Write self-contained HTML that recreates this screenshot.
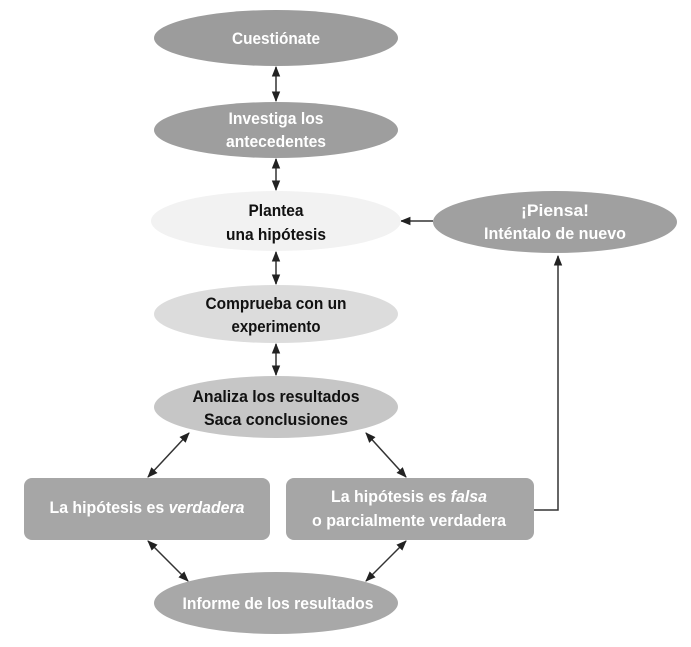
<!DOCTYPE html>
<html><head><meta charset="utf-8"><style>
body{margin:0;background:#fff}
svg text{font-family:"Liberation Sans Narrow","Liberation Sans",sans-serif;font-weight:bold;font-size:17px;text-anchor:middle}
</style></head><body>
<svg width="691" height="642" viewBox="0 0 691 642" xmlns="http://www.w3.org/2000/svg">
<defs>
<marker id="a" viewBox="0 0 10 10" refX="9" refY="5" markerWidth="7" markerHeight="7" orient="auto-start-reverse"><path d="M0,1 L10,5 L0,9 z" fill="#222"/></marker>
</defs>
<g fill="none" stroke="#333" stroke-width="1.5">
<line x1="276" y1="67" x2="276" y2="101" marker-start="url(#a)" marker-end="url(#a)"/>
<line x1="276" y1="159" x2="276" y2="190" marker-start="url(#a)" marker-end="url(#a)"/>
<line x1="276" y1="252" x2="276" y2="284" marker-start="url(#a)" marker-end="url(#a)"/>
<line x1="276" y1="344" x2="276" y2="375" marker-start="url(#a)" marker-end="url(#a)"/>
<line x1="189" y1="433" x2="148" y2="477" marker-start="url(#a)" marker-end="url(#a)"/>
<line x1="366" y1="433" x2="406" y2="477" marker-start="url(#a)" marker-end="url(#a)"/>
<line x1="148" y1="541" x2="188" y2="581" marker-start="url(#a)" marker-end="url(#a)"/>
<line x1="406" y1="541" x2="366" y2="581" marker-start="url(#a)" marker-end="url(#a)"/>
<line x1="433" y1="221" x2="401" y2="221" marker-end="url(#a)"/>
<polyline points="534,510 558,510 558,256" marker-end="url(#a)"/>
</g>
<ellipse cx="276" cy="38" rx="122" ry="28" fill="#9c9c9c"/>
<ellipse cx="276" cy="130" rx="122" ry="28" fill="#9e9e9e"/>
<ellipse cx="276" cy="221" rx="125" ry="30" fill="#f2f2f2"/>
<ellipse cx="276" cy="314" rx="122" ry="29" fill="#dcdcdc"/>
<ellipse cx="276" cy="407" rx="122" ry="31" fill="#c6c6c6"/>
<ellipse cx="276" cy="603" rx="122" ry="31" fill="#a8a8a8"/>
<ellipse cx="555" cy="222" rx="122" ry="31" fill="#a0a0a0"/>
<rect x="24" y="478" width="246" height="62" rx="8" fill="#a6a6a6"/>
<rect x="286" y="478" width="248" height="62" rx="8" fill="#a6a6a6"/>
<g fill="#fff" lengthAdjust="spacingAndGlyphs">
<text x="276" y="44" textLength="88" lengthAdjust="spacingAndGlyphs">Cuestiónate</text>
<text x="276" y="124" textLength="95" lengthAdjust="spacingAndGlyphs">Investiga los</text>
<text x="276" y="147" textLength="100" lengthAdjust="spacingAndGlyphs">antecedentes</text>
<text x="555" y="216" textLength="68" lengthAdjust="spacingAndGlyphs">¡Piensa!</text>
<text x="555" y="239" textLength="142" lengthAdjust="spacingAndGlyphs">Inténtalo de nuevo</text>
<text x="147" y="513" textLength="195" lengthAdjust="spacingAndGlyphs">La hipótesis es <tspan font-style="italic">verdadera</tspan></text>
<text x="409" y="502" textLength="156" lengthAdjust="spacingAndGlyphs">La hipótesis es <tspan font-style="italic">falsa</tspan></text>
<text x="409" y="526" textLength="194" lengthAdjust="spacingAndGlyphs">o parcialmente verdadera</text>
<text x="278" y="609" textLength="191" lengthAdjust="spacingAndGlyphs">Informe de los resultados</text>
</g>
<g fill="#111">
<text x="276" y="216" textLength="55" lengthAdjust="spacingAndGlyphs">Plantea</text>
<text x="276" y="240" textLength="100" lengthAdjust="spacingAndGlyphs">una hipótesis</text>
<text x="276" y="309" textLength="141" lengthAdjust="spacingAndGlyphs">Comprueba con un</text>
<text x="276" y="332" textLength="89" lengthAdjust="spacingAndGlyphs">experimento</text>
<text x="276" y="402" textLength="167" lengthAdjust="spacingAndGlyphs">Analiza los resultados</text>
<text x="276" y="425" textLength="144" lengthAdjust="spacingAndGlyphs">Saca conclusiones</text>
</g>
</svg>
</body></html>
